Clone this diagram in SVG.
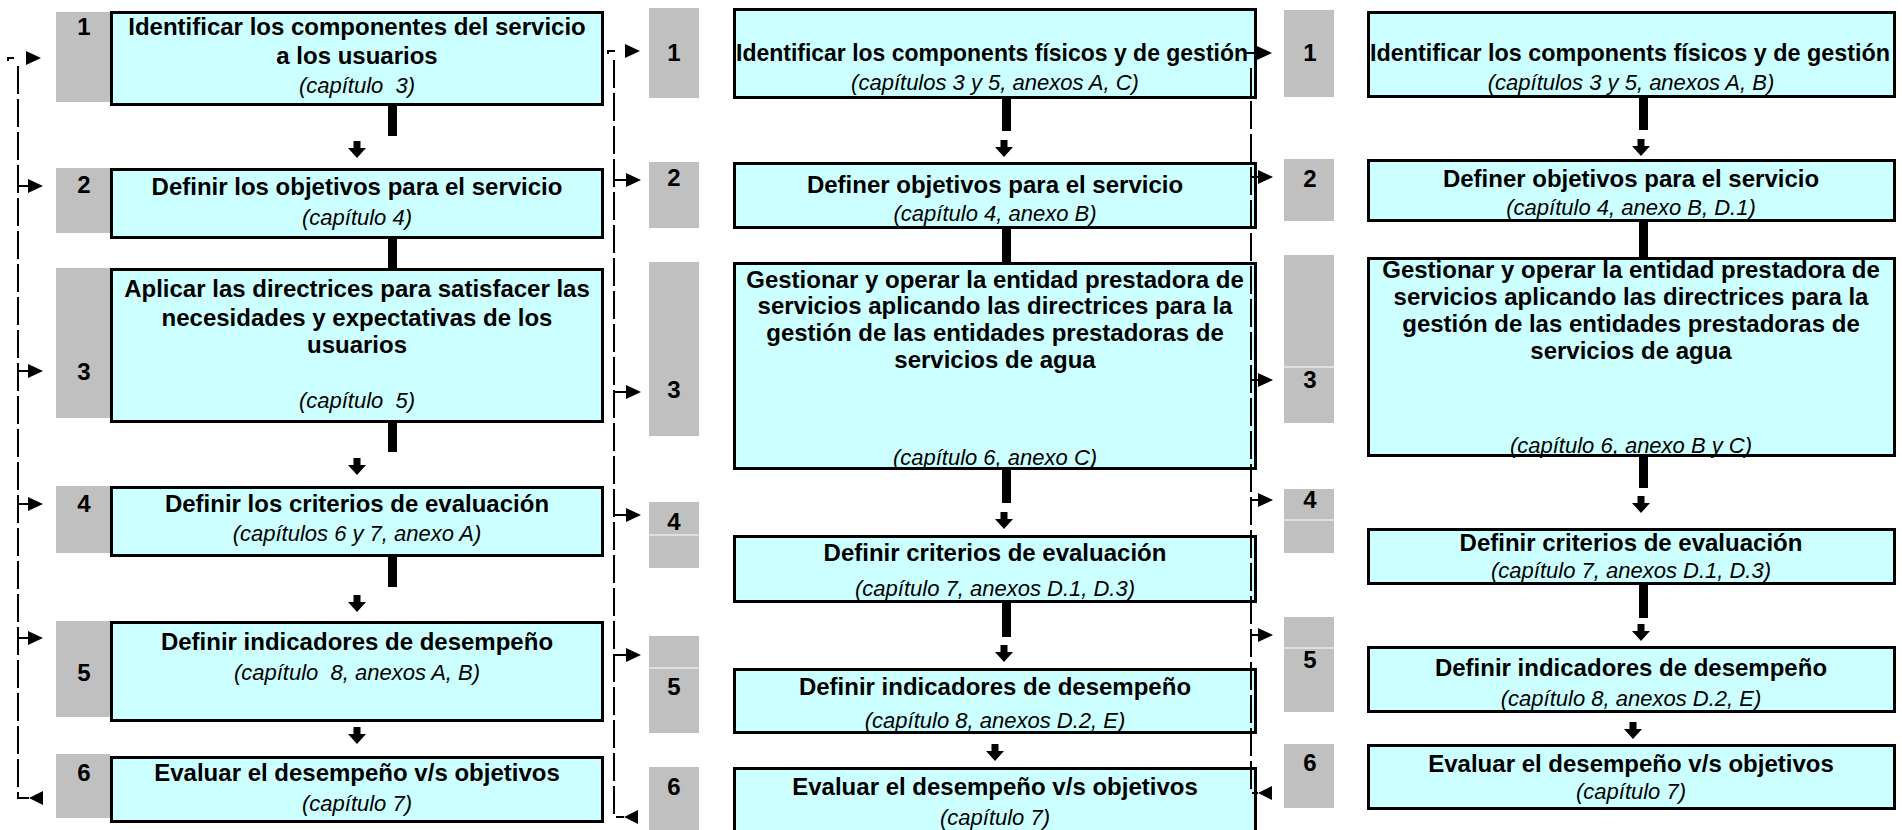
<svg xmlns="http://www.w3.org/2000/svg" xmlns:xlink="http://www.w3.org/1999/xlink" width="1902" height="830" viewBox="0 0 1902 830">
<style>
.g{fill:#c0c0c0}
.b{fill:#ccffff;stroke:#000;stroke-width:3}
.w{stroke:#fff;stroke-width:1}
text{font-family:"Liberation Sans",Arial,sans-serif;text-anchor:middle;fill:#000}
.t{font-size:24px;font-weight:bold}
.i{font-size:22px;font-style:italic;white-space:pre}
.n{font-size:24px;font-weight:bold}
.bar{fill:#000}
.d{fill:none;stroke:#000;stroke-width:2;stroke-dasharray:28 5}
.k{fill:none;stroke:#000;stroke-width:2}
</style>
<defs>
<path id="ar" d="M-15,-7 L0,0 L-15,7 Z" fill="#000"/>
<path id="al" d="M14,-7 L0,0 L14,7 Z" fill="#000"/>
<path id="ad" d="M-3.5,0 h7 v7 h5.5 L0,17 L-9,7 h5.5 Z" fill="#000"/>
</defs>
<rect width="1902" height="830" fill="#fff"/>

<!-- Column 1 -->
<g id="c1n1"><rect class="g" x="56" y="12" width="54" height="90"/><rect class="b" x="111.5" y="12.5" width="491" height="92"/><text class="n" x="84" y="35">1</text><text class="t" x="357" y="35">Identificar los componentes del servicio</text><text class="t" x="357" y="64">a los usuarios</text><text class="i" x="357" y="93" xml:space="preserve">(capítulo  3)</text></g>
<g id="c1n2"><rect class="g" x="56" y="168" width="54" height="65"/><rect class="b" x="111.5" y="169.5" width="491" height="68"/><text class="n" x="84" y="193">2</text><text class="t" x="357" y="195">Definir los objetivos para el servicio</text><text class="i" x="357" y="225">(capítulo 4)</text></g>
<g id="c1n3"><rect class="g" x="56" y="268" width="54" height="150"/><rect class="b" x="111.5" y="269.5" width="491" height="152"/><text class="n" x="84" y="380">3</text><text class="t" x="357" y="297">Aplicar las directrices para satisfacer las</text><text class="t" x="357" y="326">necesidades y expectativas de los</text><text class="t" x="357" y="353">usuarios</text><text class="i" x="357" y="408" xml:space="preserve">(capítulo  5)</text></g>
<g id="c1n4"><rect class="g" x="56" y="486" width="54" height="67"/><rect class="b" x="111.5" y="487.5" width="491" height="68"/><text class="n" x="84" y="512">4</text><text class="t" x="357" y="512">Definir los criterios de evaluación</text><text class="i" x="357" y="541">(capítulos 6 y 7, anexo A)</text></g>
<g id="c1n5"><rect class="g" x="56" y="621" width="54" height="96"/><rect class="b" x="111.5" y="622.5" width="491" height="98"/><text class="n" x="84" y="681">5</text><text class="t" x="357" y="650">Definir indicadores de desempeño</text><text class="i" x="357" y="680" xml:space="preserve">(capítulo  8, anexos A, B)</text></g>
<g id="c1n6"><rect class="g" x="56" y="754" width="54" height="64"/><rect class="b" x="111.5" y="757.5" width="491" height="64"/><text class="n" x="84" y="781">6</text><text class="t" x="357" y="781">Evaluar el desempeño v/s objetivos</text><text class="i" x="357" y="811">(capítulo 7)</text></g>

<!-- Column 2 -->
<g id="c2n1"><rect class="g" x="649" y="8" width="50" height="90"/><rect class="b" x="734.5" y="9.5" width="521" height="88"/><text class="n" x="674" y="61">1</text><text class="t" x="992" y="61" textLength="512" lengthAdjust="spacingAndGlyphs">Identificar los components físicos y de gestión</text><text class="i" x="995" y="90">(capítulos 3 y 5, anexos A, C)</text></g>
<g id="c2n2"><rect class="g" x="649" y="162" width="50" height="66"/><rect class="b" x="734.5" y="163.5" width="521" height="64"/><text class="n" x="674" y="186">2</text><text class="t" x="995" y="193">Definer objetivos para el servicio</text><text class="i" x="995" y="221">(capítulo 4, anexo B)</text></g>
<g id="c2n3"><rect class="g" x="649" y="262" width="50" height="174"/><rect class="b" x="734.5" y="263.5" width="521" height="205"/><text class="n" x="674" y="398">3</text><text class="t" x="995" y="288">Gestionar y operar la entidad prestadora de</text><text class="t" x="995" y="314">servicios aplicando las directrices para la</text><text class="t" x="995" y="341">gestión de las entidades prestadoras de</text><text class="t" x="995" y="368">servicios de agua</text><text class="i" x="995" y="465">(capítulo 6, anexo C)</text></g>
<g id="c2n4"><rect class="g" x="649" y="502" width="50" height="66"/><line class="w" x1="649" y1="535" x2="699" y2="535"/><rect class="b" x="734.5" y="536.5" width="521" height="65"/><text class="n" x="674" y="530">4</text><text class="t" x="995" y="561">Definir criterios de evaluación</text><text class="i" x="995" y="596">(capítulo 7, anexos D.1, D.3)</text></g>
<g id="c2n5"><rect class="g" x="649" y="636" width="50" height="97"/><line class="w" x1="649" y1="668" x2="699" y2="668"/><rect class="b" x="734.5" y="669.5" width="521" height="63"/><text class="n" x="674" y="695">5</text><text class="t" x="995" y="695">Definir indicadores de desempeño</text><text class="i" x="995" y="728">(capítulo 8, anexos D.2, E)</text></g>
<g id="c2n6"><rect class="g" x="649" y="767" width="50" height="63"/><rect class="b" x="734.5" y="768.5" width="521" height="66"/><text class="n" x="674" y="795">6</text><text class="t" x="995" y="795">Evaluar el desempeño v/s objetivos</text><text class="i" x="995" y="825">(capítulo 7)</text></g>

<!-- Column 3 -->
<g id="c3n1"><rect class="g" x="1284" y="10" width="50" height="87"/><rect class="b" x="1368.5" y="12.5" width="526" height="84"/><text class="n" x="1310" y="61">1</text><text class="t" x="1630" y="61" textLength="520" lengthAdjust="spacingAndGlyphs">Identificar los components físicos y de gestión</text><text class="i" x="1631" y="90">(capítulos 3 y 5, anexos A, B)</text></g>
<g id="c3n2"><rect class="g" x="1284" y="159" width="50" height="62"/><rect class="b" x="1368.5" y="160.5" width="526" height="60"/><text class="n" x="1310" y="187">2</text><text class="t" x="1631" y="187">Definer objetivos para el servicio</text><text class="i" x="1631" y="215">(capítulo 4, anexo B, D.1)</text></g>
<g id="c3n3"><rect class="g" x="1284" y="255" width="50" height="168"/><line class="w" x1="1284" y1="367" x2="1334" y2="367"/><rect class="b" x="1368.5" y="258.5" width="526" height="197"/><text class="n" x="1310" y="388">3</text><text class="t" x="1631" y="278">Gestionar y operar la entidad prestadora de</text><text class="t" x="1631" y="305">servicios aplicando las directrices para la</text><text class="t" x="1631" y="332">gestión de las entidades prestadoras de</text><text class="t" x="1631" y="359">servicios de agua</text><text class="i" x="1631" y="453">(capítulo 6, anexo B y C)</text></g>
<g id="c3n4"><rect class="g" x="1284" y="489" width="50" height="64"/><line class="w" x1="1284" y1="520" x2="1334" y2="520"/><rect class="b" x="1368.5" y="529.5" width="526" height="54"/><text class="n" x="1310" y="508">4</text><text class="t" x="1631" y="551">Definir criterios de evaluación</text><text class="i" x="1631" y="578">(capítulo 7, anexos D.1, D.3)</text></g>
<g id="c3n5"><rect class="g" x="1284" y="617" width="50" height="95"/><line class="w" x1="1284" y1="648" x2="1334" y2="648"/><rect class="b" x="1368.5" y="647.5" width="526" height="64"/><text class="n" x="1310" y="668">5</text><text class="t" x="1631" y="676">Definir indicadores de desempeño</text><text class="i" x="1631" y="706">(capítulo 8, anexos D.2, E)</text></g>
<g id="c3n6"><rect class="g" x="1284" y="744" width="50" height="64"/><rect class="b" x="1368.5" y="745.5" width="526" height="63"/><text class="n" x="1310" y="771">6</text><text class="t" x="1631" y="772">Evaluar el desempeño v/s objetivos</text><text class="i" x="1631" y="799">(capítulo 7)</text></g>

<!-- Connectors -->
<g id="connectors">
  <!-- column 1 flow -->
  <rect class="bar" x="388" y="106" width="9" height="30"/>
  <rect class="bar" x="388" y="239" width="9" height="29"/>
  <rect class="bar" x="388" y="423" width="9" height="29"/>
  <rect class="bar" x="388" y="557" width="9" height="30"/>
  <use xlink:href="#ad" x="357" y="141"/>
  <use xlink:href="#ad" x="357" y="458"/>
  <use xlink:href="#ad" x="357" y="595"/>
  <use xlink:href="#ad" x="357" y="727"/>
  <!-- column 2 flow -->
  <rect class="bar" x="1002" y="99" width="9" height="32"/>
  <rect class="bar" x="1002" y="229" width="9" height="33"/>
  <rect class="bar" x="1002" y="470" width="9" height="33"/>
  <rect class="bar" x="1002" y="603" width="9" height="34"/>
  <use xlink:href="#ad" x="1004" y="140"/>
  <use xlink:href="#ad" x="1004" y="512"/>
  <use xlink:href="#ad" x="1004" y="645"/>
  <use xlink:href="#ad" x="995" y="744"/>
  <!-- column 3 flow -->
  <rect class="bar" x="1639" y="98" width="9" height="32"/>
  <rect class="bar" x="1639" y="222" width="9" height="35"/>
  <rect class="bar" x="1639" y="457" width="9" height="31"/>
  <rect class="bar" x="1639" y="585" width="9" height="33"/>
  <use xlink:href="#ad" x="1641" y="139"/>
  <use xlink:href="#ad" x="1641" y="496"/>
  <use xlink:href="#ad" x="1641" y="624"/>
  <use xlink:href="#ad" x="1633" y="722"/>

  <!-- feedback line 1 -->
  <path class="k" d="M8,61 V58 H14"/>
  <path class="d" d="M18,66 V798 H29"/>
  <path class="k" d="M18,186 H28 M18,371 H28 M18,504 H28 M18,638 H28"/>
  <use xlink:href="#ar" x="41" y="58"/>
  <use xlink:href="#ar" x="43" y="186"/>
  <use xlink:href="#ar" x="43" y="371"/>
  <use xlink:href="#ar" x="43" y="504"/>
  <use xlink:href="#ar" x="43" y="638"/>
  <use xlink:href="#al" x="29" y="798"/>

  <!-- feedback line 2 -->
  <path class="k" d="M608,54 V51 H615"/>
  <path class="d" d="M614,60 V817 H624"/>
  <path class="k" d="M614,180 H626 M614,392 H626 M614,515 H626 M614,655 H626"/>
  <use xlink:href="#ar" x="640" y="51"/>
  <use xlink:href="#ar" x="641" y="180"/>
  <use xlink:href="#ar" x="641" y="392"/>
  <use xlink:href="#ar" x="641" y="515"/>
  <use xlink:href="#ar" x="641" y="655"/>
  <use xlink:href="#al" x="624" y="817"/>

  <!-- feedback line 3 -->
  <path class="k" d="M1245,56 V53 H1258"/>
  <path class="d" d="M1251,68 V793 H1258"/>
  <path class="k" d="M1251,177 H1258 M1251,380 H1258 M1251,500 H1258 M1251,635 H1258"/>
  <use xlink:href="#ar" x="1272" y="53"/>
  <use xlink:href="#ar" x="1273" y="177"/>
  <use xlink:href="#ar" x="1273" y="380"/>
  <use xlink:href="#ar" x="1273" y="500"/>
  <use xlink:href="#ar" x="1273" y="635"/>
  <use xlink:href="#al" x="1258" y="793"/>
</g>
</svg>
